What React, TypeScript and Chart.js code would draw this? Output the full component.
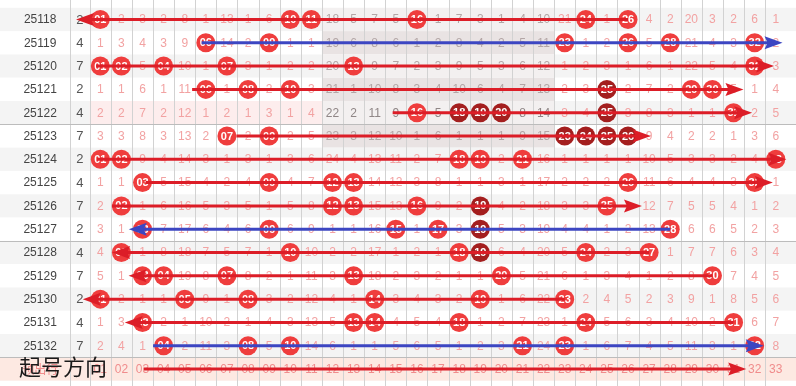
import { useEffect, useRef } from 'react';
import { Chart, registerables } from 'chart.js';

Chart.register(...registerables);

// ---------- data ----------
const periods = ['25118', '25119', '25120', '25121', '25122', '25123', '25124', '25125', '25126', '25127', '25128', '25129', '25130', '25131', '25132'];
const counts = [2, 4, 7, 2, 4, 7, 2, 4, 7, 2, 4, 7, 2, 4, 7];
const draws = [
  [1, 10, 11, 16, 24, 26],
  [6, 9, 23, 26, 28, 32],
  [1, 2, 4, 7, 13, 32],
  [6, 8, 10, 25, 29, 30],
  [16, 18, 19, 20, 25, 31],
  [7, 9, 23, 24, 25, 26],
  [1, 2, 18, 19, 21, 33],
  [3, 9, 12, 13, 26, 32],
  [2, 12, 13, 16, 19, 25],
  [3, 9, 15, 17, 19, 28],
  [2, 10, 18, 19, 24, 27],
  [3, 4, 7, 13, 20, 30],
  [1, 5, 8, 14, 19, 23],
  [3, 13, 14, 18, 24, 31],
  [4, 8, 10, 21, 23, 32],
];
const hotBalls = [[], [], [], [25], [18, 19, 20, 25], [23, 24, 25, 26], [], [], [19], [19], [19], [], [], [], []];
const omissions = [
  [0, 2, 3, 2, 8, 1, 13, 1, 6, 0, 0, 18, 5, 7, 5, 0, 1, 7, 3, 1, 4, 10, 21, 0, 1, 0, 4, 2, 20, 3, 2, 6, 1],
  [1, 3, 4, 3, 9, 0, 14, 2, 0, 1, 1, 19, 6, 8, 6, 1, 2, 8, 4, 2, 5, 11, 0, 1, 2, 0, 5, 0, 21, 4, 3, 0, 2],
  [0, 0, 5, 0, 10, 1, 0, 3, 1, 2, 2, 20, 0, 9, 7, 2, 3, 9, 5, 3, 6, 12, 1, 2, 3, 1, 6, 1, 22, 5, 4, 0, 3],
  [1, 1, 6, 1, 11, 0, 1, 0, 2, 0, 3, 21, 1, 10, 8, 3, 4, 10, 6, 4, 7, 13, 2, 3, 0, 2, 7, 2, 0, 0, 5, 1, 4],
  [2, 2, 7, 2, 12, 1, 2, 1, 3, 1, 4, 22, 2, 11, 9, 0, 5, 0, 0, 0, 8, 14, 3, 4, 0, 3, 8, 3, 1, 1, 0, 2, 5],
  [3, 3, 8, 3, 13, 2, 0, 2, 0, 2, 5, 23, 3, 12, 10, 1, 6, 1, 1, 1, 9, 15, 0, 0, 0, 0, 9, 4, 2, 2, 1, 3, 6],
  [0, 0, 9, 4, 14, 3, 1, 3, 1, 3, 6, 24, 4, 13, 11, 2, 7, 0, 0, 2, 0, 16, 1, 1, 1, 1, 10, 5, 3, 3, 2, 4, 0],
  [1, 1, 0, 5, 15, 4, 2, 4, 0, 4, 7, 0, 0, 14, 12, 3, 8, 1, 1, 3, 1, 17, 2, 2, 2, 0, 11, 6, 4, 4, 3, 0, 1],
  [2, 0, 1, 6, 16, 5, 3, 5, 1, 5, 8, 0, 0, 15, 13, 0, 9, 2, 0, 4, 2, 18, 3, 3, 0, 1, 12, 7, 5, 5, 4, 1, 2],
  [3, 1, 0, 7, 17, 6, 4, 6, 0, 6, 9, 1, 1, 16, 0, 1, 0, 3, 0, 5, 3, 19, 4, 4, 1, 2, 13, 0, 6, 6, 5, 2, 3],
  [4, 0, 1, 8, 18, 7, 5, 7, 1, 0, 10, 2, 2, 17, 1, 2, 1, 0, 0, 6, 4, 20, 5, 0, 2, 3, 0, 1, 7, 7, 6, 3, 4],
  [5, 1, 0, 0, 19, 8, 0, 8, 2, 1, 11, 3, 0, 18, 2, 3, 2, 1, 1, 0, 5, 21, 6, 1, 3, 4, 1, 2, 8, 0, 7, 4, 5],
  [0, 2, 1, 1, 0, 9, 1, 0, 3, 2, 12, 4, 1, 0, 3, 4, 3, 2, 0, 1, 6, 22, 0, 2, 4, 5, 2, 3, 9, 1, 8, 5, 6],
  [1, 3, 0, 2, 1, 10, 2, 1, 4, 3, 13, 5, 0, 0, 4, 5, 4, 0, 1, 2, 7, 23, 1, 0, 5, 6, 3, 4, 10, 2, 0, 6, 7],
  [2, 4, 1, 0, 2, 11, 3, 0, 5, 0, 14, 6, 1, 1, 5, 6, 5, 1, 2, 3, 0, 24, 0, 1, 6, 7, 4, 5, 11, 3, 1, 0, 8],
];
const columnLabels = ['01', '02', '03', '04', '05', '06', '07', '08', '09', '10', '11', '12', '13', '14', '15', '16', '17', '18', '19', '20', '21', '22', '23', '24', '25', '26', '27', '28', '29', '30', '31', '32', '33'];
const forecastLabel = '预出行';
const directionNote = '起号方向';
// arrows: one per row (last one on the forecast row), in column units
const arrowStart = [26, 5.8, 0.8, 5.35, 14.85, 7.45, 0.85, 3.15, 1.55, 28, 27, 30, 23, 31, 3.5, 3.05];
const arrowEnd = [-0.15, 33.32, 32.92, 31.47, 31.88, 27.08, 33.5, 32.86, 26.66, 2.35, 1.56, 2.34, 0.17, 2.16, 32.43, 31.6];
const arrowBlue = [false, true, false, false, false, false, false, false, false, true, false, false, false, false, true, false];

// ---------- style ----------
const RED_BALL = '#ef3d3d';
const DARK_BALL = '#a41f1f';
const RED_ARROW = '#dc1d27';
const BLUE_ARROW = '#3c46c2';
const FONT = '"Liberation Sans", Arial, sans-serif';
const PERIOD_X = -1.85;
const COUNT_X = 0.03;
const SEP_X = -0.45;
const HEAD_LEN = 18;
const HEAD_HALF = 6.5;

const tablePlugin = {
  id: 'lotteryTable',
  beforeDatasetsDraw(chart: any) {
    const { ctx } = chart;
    const xs = chart.scales.x;
    const ys = chart.scales.y;
    const W = chart.width;
    const H = chart.height;
    const px = (v: number) => xs.getPixelForValue(v);
    const py = (v: number) => ys.getPixelForValue(v);
    const nRows = periods.length;
    ctx.save();
    // row backgrounds
    for (let r = 0; r <= nRows; r++) {
      const top = py(r - 0.5);
      const bot = py(r + 0.5);
      ctx.fillStyle = r === nRows ? '#fde9e2' : r % 2 === 0 ? '#f4f4f4' : '#ffffff';
      ctx.fillRect(0, top, W, bot - top);
      if (r < 6) {
        ctx.fillStyle = r % 2 === 1 ? '#e9e3e3' : '#f3f0f0';
        ctx.fillRect(px(11.5), top, px(22.5) - px(11.5), bot - top);
      }
      if (r === 4) {
        ctx.fillStyle = '#fdeded';
        ctx.fillRect(px(0.5), top, px(11.5) - px(0.5), bot - top);
      }
    }
    // vertical grid
    ctx.strokeStyle = '#d2d2d2';
    ctx.lineWidth = 1;
    const vx = [SEP_X];
    for (let c = 0; c < 33; c++) vx.push(c + 0.5);
    vx.forEach((v) => {
      const x = Math.round(px(v)) + 0.5;
      ctx.beginPath();
      ctx.moveTo(x, 0);
      ctx.lineTo(x, H);
      ctx.stroke();
    });
    // group separators
    ctx.strokeStyle = '#bcbcbc';
    [4.5, 9.5, 14.5].forEach((v) => {
      const y = Math.round(py(v)) + 0.5;
      ctx.beginPath();
      ctx.moveTo(0, y);
      ctx.lineTo(W, y);
      ctx.stroke();
    });
    // texts
    ctx.textAlign = 'center';
    ctx.textBaseline = 'middle';
    for (let r = 0; r < nRows; r++) {
      const y = py(r) + 0.5;
      ctx.font = `12px ${FONT}`;
      ctx.fillStyle = '#444';
      ctx.fillText(periods[r], px(PERIOD_X), y);
      ctx.fillStyle = '#555';
      ctx.font = `13px ${FONT}`;
      ctx.fillText(String(counts[r]), px(COUNT_X), y);
      ctx.font = `12px ${FONT}`;
      omissions[r].forEach((v, c) => {
        if (v === 0) return;
        const col = c + 1;
        let color = '#f2a2a2';
        if (r < 6 && col >= 12 && col <= 22) color = r === 4 ? '#8f8686' : '#b3a6a6';
        ctx.fillStyle = color;
        ctx.fillText(String(v), px(col), y);
      });
    }
    // forecast row
    const fy = py(nRows) + 0.5;
    ctx.fillStyle = '#f08c8c';
    ctx.font = `12px "Noto Sans CJK SC", sans-serif`;
    ctx.fillText(forecastLabel, px(PERIOD_X), fy);
    ctx.font = `12px ${FONT}`;
    columnLabels.forEach((lab, c) => ctx.fillText(lab, px(c + 1), fy));
    ctx.restore();
  },
  afterDatasetDraw(chart: any, args: any) {
    const ds = chart.data.datasets[args.index];
    if (!ds.isBall) return;
    const { ctx } = chart;
    ctx.save();
    ctx.fillStyle = '#ffffff';
    ctx.font = `bold 11px ${FONT}`;
    ctx.textAlign = 'center';
    ctx.textBaseline = 'middle';
    args.meta.data.forEach((el: any, i: number) => {
      const n = ds.data[i].x;
      ctx.fillText(String(n).padStart(2, '0'), el.x, el.y + 0.5);
    });
    ctx.restore();
  },
  afterDatasetsDraw(chart: any) {
    const { ctx } = chart;
    const xs = chart.scales.x;
    const ys = chart.scales.y;
    ctx.save();
    arrowEnd.forEach((end, r) => {
      const tip = xs.getPixelForValue(end);
      const y = ys.getPixelForValue(r);
      const dir = end > arrowStart[r] ? 1 : -1;
      ctx.fillStyle = arrowBlue[r] ? BLUE_ARROW : RED_ARROW;
      ctx.beginPath();
      ctx.moveTo(tip, y);
      ctx.lineTo(tip - dir * HEAD_LEN, y - HEAD_HALF);
      ctx.lineTo(tip - dir * (HEAD_LEN - 3), y);
      ctx.lineTo(tip - dir * HEAD_LEN, y + HEAD_HALF);
      ctx.closePath();
      ctx.fill();
    });
    ctx.fillStyle = '#1a1a1a';
    ctx.font = `22px "Noto Sans CJK SC", sans-serif`;
    ctx.textAlign = 'left';
    ctx.textBaseline = 'middle';
    ctx.fillText(directionNote, 19, ys.getPixelForValue(periods.length) - 2);
    ctx.restore();
  },
};

export default function App() {
  const ref = useRef<HTMLCanvasElement>(null);
  useEffect(() => {
    if (!ref.current) return;
    const normal: any[] = [];
    const hot: any[] = [];
    draws.forEach((row, r) => {
      row.forEach((n) => {
        (hotBalls[r].includes(n) ? hot : normal).push({ x: n, y: r });
      });
    });
    const colPerPx = 1 / 21.625;
    const arrowSets = arrowStart.map((s, r) => {
      const e = arrowEnd[r];
      const dir = e > s ? 1 : -1;
      return {
        label: `arrow${r}`,
        data: [
          { x: s, y: r },
          { x: e - dir * (HEAD_LEN - 4) * colPerPx, y: r },
        ],
        showLine: true,
        borderColor: arrowBlue[r] ? BLUE_ARROW : RED_ARROW,
        borderWidth: 3,
        pointRadius: 0,
        order: 1,
      };
    });
    const chart = new Chart(ref.current, {
      type: 'scatter',
      data: {
        datasets: [
          ...arrowSets,
          { label: 'balls', isBall: true, data: normal, backgroundColor: RED_BALL, borderWidth: 0, pointRadius: 9.5, order: 2 } as any,
          { label: 'hot', isBall: true, data: hot, backgroundColor: DARK_BALL, borderWidth: 0, pointRadius: 9.5, order: 2 } as any,
        ],
      },
      options: {
        responsive: false,
        animation: false,
        devicePixelRatio: 1,
        events: [],
        layout: { padding: 0 },
        plugins: { legend: { display: false }, tooltip: { enabled: false } },
        scales: {
          x: { type: 'linear', min: -3.301, max: 33.508, display: false },
          y: { type: 'linear', min: -0.428, max: 15.32, reverse: true, display: false },
        },
      },
      plugins: [tablePlugin],
    });
    return () => chart.destroy();
  }, []);
  return (
    <div style={{ position: 'absolute', left: 0, top: 0, width: 796, height: 386, background: '#fff' }}>
      <canvas ref={ref} width={796} height={386} style={{ display: 'block' }} />
    </div>
  );
}
